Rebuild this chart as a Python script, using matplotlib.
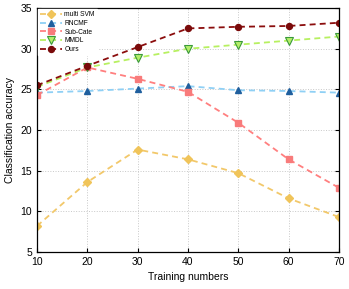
import matplotlib
matplotlib.use("Agg")
import matplotlib.pyplot as plt

x = [10, 20, 30, 40, 50, 60, 70]
multi_svm = [8.2, 13.6, 17.6, 16.4, 14.7, 11.6, 9.3]
rncmf = [24.6, 24.8, 25.1, 25.4, 24.9, 24.8, 24.6]
sub_cate = [24.3, 27.7, 26.3, 24.7, 20.9, 16.4, 12.9]
mmdl = [25.3, 27.7, 28.9, 30.0, 30.5, 31.0, 31.5]
ours = [25.5, 27.9, 30.2, 32.5, 32.7, 32.8, 33.2]

xticks = [10, 20, 30, 40, 50, 60, 70]
yticks = [5, 10, 15, 20, 25, 30, 35]

plt.rcParams['font.family'] = ['Liberation Sans', 'DejaVu Sans']
fig = plt.figure(figsize=(3.49, 2.89), dpi=100)
ax = fig.add_axes([0.106, 0.128, 0.865, 0.844])

dash = (0, (3.3, 2.3))
ax.plot(x, multi_svm, linestyle=dash, color='#f2c86a', lw=1.3, marker='D', ms=4.3,
        mfc='#f0c45a', mec='#f0c45a', label='multi SVM')
ax.plot(x, rncmf, linestyle=dash, color='#8fd0f5', lw=1.3, marker='^', ms=4.8,
        mfc='#1f5f9e', mec='#1f5f9e', label='RNCMF')
ax.plot(x, sub_cate, linestyle=dash, color='#ff7f7f', lw=1.3, marker='s', ms=4.3,
        mfc='#f87b7b', mec='#f87b7b', label='Sub-Cate')
ax.plot(x, mmdl, linestyle=dash, color='#b7f060', lw=1.3, marker='v', ms=5.3,
        mfc='#b5ee6a', mec='#3a9a3a', mew=0.8, label='MMDL')
ax.plot(x, ours, linestyle=dash, color='#8b0d0d', lw=1.3, marker='o', ms=4.3,
        mfc='#7a0a0a', mec='#7a0a0a', label='Ours')

ax.set_xlim(10, 70)
ax.set_ylim(5, 35)
ax.set_xticks(xticks)
ax.set_yticks(yticks)
ax.grid(True, linestyle=':', color='#c8c8c8', lw=0.7)
ax.tick_params(direction='in', labelsize=7.5, length=3, right=True, top=False, width=0.8)
for s in ax.spines.values():
    s.set_linewidth(0.9)
ax.set_xlabel('Training numbers', fontsize=7.5)
ax.set_ylabel('Classification accuracy', fontsize=7.5)

leg = ax.legend(loc='upper left', fontsize=4.8, frameon=True, fancybox=False,
                edgecolor='white', framealpha=1, borderpad=0.3, labelspacing=0.25,
                handlelength=3.2, handletextpad=0.4, borderaxespad=0.2)

fig.savefig('out.png', dpi=100)
